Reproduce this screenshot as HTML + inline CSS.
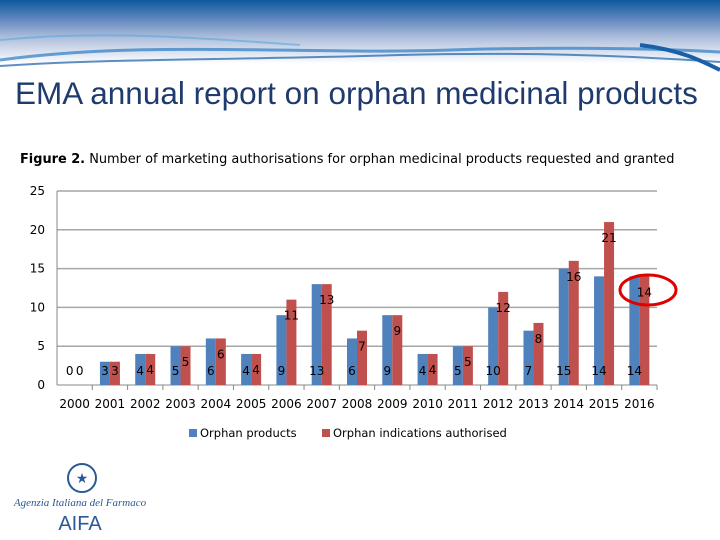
<!DOCTYPE html>
<html><head><meta charset="utf-8"><style>
body{margin:0;width:720px;height:540px;overflow:hidden;background:#fff;font-family:"Liberation Sans","DejaVu Sans",sans-serif;position:relative}
.hdr{position:absolute;left:0;top:0;width:720px;height:75px;background:linear-gradient(#0c5a9c 0%,#5f86bd 25%,#aebfdc 50%,#fff 85%)}
.title{position:absolute;left:15px;top:75px;font-size:31.5px;color:#1f3a6e;white-space:nowrap}
</style></head><body>
<div class="hdr">
<svg width="720" height="75">
<path d="M0,60 C150,40 300,55 450,50 C550,47 650,48 720,52" stroke="#2b7cc4" stroke-width="3" fill="none" opacity=".7"/>
<path d="M0,66 C120,58 250,60 400,55 C520,52 620,55 720,62" stroke="#1a5fa8" stroke-width="2" fill="none" opacity=".7"/>
<path d="M0,40 C100,30 200,38 300,45" stroke="#5aa8e0" stroke-width="2" fill="none" opacity=".6"/>
<path d="M640,45 C680,50 700,60 720,70" stroke="#1a5fa8" stroke-width="4" fill="none"/>
</svg></div>
<div class="title">EMA annual report on orphan medicinal products</div>
<svg width="720" height="540" style="position:absolute;left:0;top:0" id="chart">
<text x="20" y="163" font-size="12.9" fill="#000" font-family="DejaVu Sans, sans-serif"><tspan font-weight="bold">Figure 2.</tspan> Number of marketing authorisations for orphan medicinal products requested and granted</text>
<g id="g"></g>
<g font-family="DejaVu Sans, sans-serif" font-size="11.5">
<rect x="189" y="429" width="8" height="8" fill="#4f81bd"/>
<text x="200" y="437">Orphan products</text>
<rect x="322" y="429" width="8" height="8" fill="#c0504d"/>
<text x="333" y="437">Orphan indications authorised</text>
</g>
<ellipse cx="648" cy="290" rx="28" ry="15" fill="none" stroke="#e00000" stroke-width="3"/>
<g>
<circle cx="82" cy="478" r="14" fill="none" stroke="#2a5a96" stroke-width="2"/>
<text x="82" y="483" font-size="14" text-anchor="middle" fill="#2a5a96">★</text>
<text x="80" y="506" font-size="11" font-style="italic" text-anchor="middle" fill="#2a5a96" font-family="Liberation Serif, serif">Agenzia Italiana del Farmaco</text>
<text x="80" y="530" font-size="20" text-anchor="middle" fill="#2a5a96">AIFA</text>
</g>
</svg>
<script>
const categories=["2000","2001","2002","2003","2004","2005","2006","2007","2008","2009","2010","2011","2012","2013","2014","2015","2016"];
const products=[0,3,4,5,6,4,9,13,6,9,4,5,10,7,15,14,14];
const indications=[0,3,4,5,6,4,11,13,7,9,4,5,12,8,16,21,14];
const yTicks=[0,5,10,15,20,25];
const NS="http://www.w3.org/2000/svg";
const g=document.getElementById('g');
const x0=57,x1=657,yb=385,yt=191;
const band=(x1-x0)/categories.length;
const y=v=>yb-(yb-yt)*v/25;
function mk(t,a,p){const e=document.createElementNS(NS,t);for(const k in a)e.setAttribute(k,a[k]);(p||g).appendChild(e);return e;}
yTicks.forEach(v=>{
 if(v>0){const l=mk('line',{x1:x0,x2:x1,y1:y(v),y2:y(v),stroke:'#a6a6a6','stroke-width':1.5});
 
 }
 const t=mk('text',{x:x0-12,y:y(v)+4,'font-size':12,'text-anchor':'end','font-family':'DejaVu Sans, sans-serif',fill:'#000'});t.textContent=v;
 
 
});
const ax=mk('line',{x1:x0,x2:x1,y1:yb,y2:yb,stroke:'#888','stroke-width':1});


const ay=mk('line',{x1:x0,x2:x0,y1:yt,y2:yb,stroke:'#888','stroke-width':1});


categories.forEach((c,i)=>{
 const cx=x0+band*(i+0.5);
 const tk=mk('line',{x1:x0+band*(i+1),x2:x0+band*(i+1),y1:yb,y2:yb+5,stroke:'#888'});
 
 
 const t=mk('text',{x:cx,y:408,'font-size':12,'text-anchor':'middle','font-family':'DejaVu Sans, sans-serif'});t.textContent=c;
 
 
 const bw=10;
 const b=mk('rect',{x:cx-bw,y:y(products[i]),width:bw,height:yb-y(products[i]),fill:'#4f81bd'});
 
 
 const r=mk('rect',{x:cx,y:y(indications[i]),width:bw,height:yb-y(indications[i]),fill:'#c0504d'});
 
 
 const lb=mk('text',{x:cx-5,y:375,'font-size':12,'text-anchor':'middle','font-family':'DejaVu Sans, sans-serif'});lb.textContent=products[i];
 
 
 const ly=Math.min(y(indications[i])+20,375);
 const lr=mk('text',{x:cx+5,y:ly,'font-size':12,'text-anchor':'middle','font-family':'DejaVu Sans, sans-serif'});lr.textContent=indications[i];
 
 
});
</script>
</body></html>
